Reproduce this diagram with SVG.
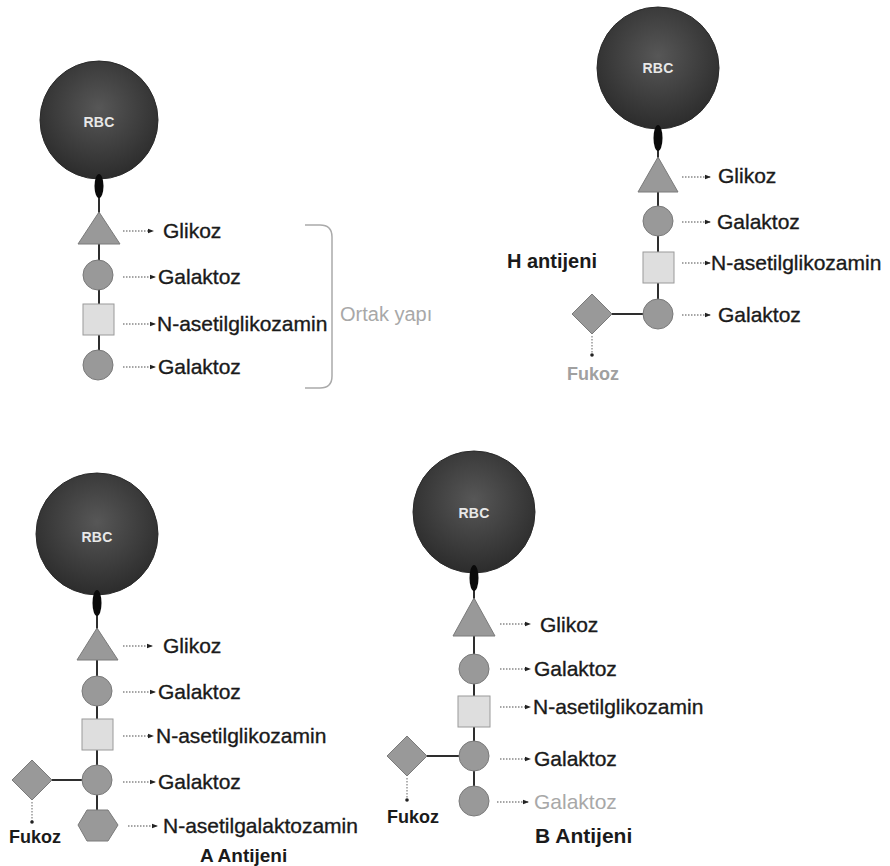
<svg xmlns="http://www.w3.org/2000/svg" width="890" height="866" viewBox="0 0 890 866">
<defs>
<radialGradient id="rbcGrad" cx="50%" cy="40%" r="60%">
<stop offset="0" stop-color="#575757"/>
<stop offset="1" stop-color="#2c2c2c"/>
</radialGradient>
<marker id="ah" viewBox="0 0 6 6" refX="5" refY="3" markerWidth="6" markerHeight="6" markerUnits="userSpaceOnUse" orient="auto">
<path d="M0,0.8 L6,3 L0,5.2 Z" fill="#222"/>
</marker>
<marker id="dot" viewBox="0 0 4 4" refX="2" refY="2" markerWidth="4" markerHeight="4" markerUnits="userSpaceOnUse">
<circle cx="2" cy="2" r="1.8" fill="#222"/>
</marker>
</defs>
<style>
.rbc{fill:url(#rbcGrad);stroke:#2a2a2a;stroke-width:1}
.rbct{font-family:"Liberation Sans",Arial,sans-serif;font-size:14px;font-weight:bold;fill:#e8e8e8;text-anchor:middle;letter-spacing:0.3px}
.stem{fill:#0a0a0a}
.bond{stroke:#2e2e2e;stroke-width:2;fill:none}
.sug{fill:#999;stroke:#7a7a7a;stroke-width:1}
.sq{fill:#dedede;stroke:#9a9a9a;stroke-width:1}
.lbl{font-family:"Liberation Sans",Arial,sans-serif;font-size:21px;fill:#1a1a1a;stroke:#1a1a1a;stroke-width:0.35}
.glbl{font-family:"Liberation Sans",Arial,sans-serif;font-size:20px;fill:#a8a8a8}
.glbl2{font-family:"Liberation Sans",Arial,sans-serif;font-size:21px;fill:#a8a8a8}
.ttl{font-family:"Liberation Sans",Arial,sans-serif;font-size:20px;font-weight:bold;fill:#1a1a1a}
.fuk{font-family:"Liberation Sans",Arial,sans-serif;font-size:18px;font-weight:bold;fill:#1a1a1a}
.fukg{font-family:"Liberation Sans",Arial,sans-serif;font-size:18px;font-weight:bold;fill:#a0a0a0}
.dl{stroke:#888;stroke-width:1.3;stroke-dasharray:1.5 1.5;fill:none}
.brk{stroke:#aaa;stroke-width:1.5;fill:none}
</style>
<rect width="890" height="866" fill="#fff"/>

<g id="connectors">
<line class="bond" x1="99" y1="195" x2="99" y2="365"/>
<line class="dl" x1="123" y1="231" x2="153" y2="231" marker-end="url(#ah)"/>
<line class="dl" x1="123" y1="277" x2="155" y2="277" marker-end="url(#ah)"/>
<line class="dl" x1="123" y1="324" x2="155" y2="324" marker-end="url(#ah)"/>
<line class="dl" x1="123" y1="367" x2="155" y2="367" marker-end="url(#ah)"/>
<path class="brk" d="M305,225 L320,225 Q332,225 332,237 L332,376 Q332,388 320,388 L305,388"/>
<line class="bond" x1="658" y1="148" x2="658" y2="314"/>
<line class="bond" x1="610" y1="314" x2="650" y2="314"/>
<line class="dl" x1="682" y1="177" x2="710" y2="177" marker-end="url(#ah)"/>
<line class="dl" x1="682" y1="222" x2="710" y2="222" marker-end="url(#ah)"/>
<line class="dl" x1="682" y1="263" x2="710" y2="263" marker-end="url(#ah)"/>
<line class="dl" x1="682" y1="315" x2="710" y2="315" marker-end="url(#ah)"/>
<line class="dl" x1="592" y1="336" x2="592" y2="355" marker-end="url(#dot)"/>
<line class="bond" x1="97" y1="614" x2="97" y2="825"/>
<line class="bond" x1="50" y1="780" x2="90" y2="780"/>
<line class="dl" x1="123" y1="646" x2="152" y2="646" marker-end="url(#ah)"/>
<line class="dl" x1="123" y1="692" x2="155" y2="692" marker-end="url(#ah)"/>
<line class="dl" x1="123" y1="736" x2="153" y2="736" marker-end="url(#ah)"/>
<line class="dl" x1="123" y1="782" x2="155" y2="782" marker-end="url(#ah)"/>
<line class="dl" x1="128" y1="826" x2="157" y2="826" marker-end="url(#ah)"/>
<line class="dl" x1="32" y1="802" x2="32" y2="822" marker-end="url(#dot)"/>
<line class="bond" x1="474" y1="587" x2="474" y2="801"/>
<line class="bond" x1="425" y1="756" x2="466" y2="756"/>
<line class="dl" x1="500" y1="624" x2="530" y2="624" marker-end="url(#ah)"/>
<line class="dl" x1="500" y1="669" x2="530" y2="669" marker-end="url(#ah)"/>
<line class="dl" x1="500" y1="707" x2="530" y2="707" marker-end="url(#ah)"/>
<line class="dl" x1="500" y1="759" x2="530" y2="759" marker-end="url(#ah)"/>
<line class="dl" x1="497" y1="802" x2="528" y2="802" marker-end="url(#ah)"/>
<line class="dl" x1="407" y1="778" x2="407" y2="800" marker-end="url(#dot)"/>
</g>

<g id="p1-rbc"><circle class="rbc" cx="99" cy="120" r="59"/><text class="rbct" x="99" y="127">RBC</text></g>
<g id="p1-stem"><ellipse class="stem" cx="99" cy="186" rx="4.5" ry="12"/></g>
<g id="p1-glikoz"><polygon class="sug" points="99,212 78,244 120,244"/><text class="lbl" x="163" y="238">Glikoz</text></g>
<g id="p1-galaktoz1"><circle class="sug" cx="98" cy="275" r="15"/><text class="lbl" x="158" y="284">Galaktoz</text></g>
<g id="p1-nag"><rect class="sq" x="83" y="304" width="31" height="31"/><text class="lbl" x="157" y="331">N-asetilglikozamin</text></g>
<g id="p1-galaktoz2"><circle class="sug" cx="98" cy="365" r="15"/><text class="lbl" x="158" y="374">Galaktoz</text></g>
<g id="p1-ortak"><text class="glbl" x="340" y="321">Ortak yapı</text></g>

<g id="p2-rbc"><circle class="rbc" cx="658" cy="68" r="61"/><text class="rbct" x="658" y="73">RBC</text></g>
<g id="p2-stem"><ellipse class="stem" cx="658" cy="138" rx="4.5" ry="13"/></g>
<g id="p2-glikoz"><polygon class="sug" points="658,157 638,192 678,192"/><text class="lbl" x="718" y="183">Glikoz</text></g>
<g id="p2-galaktoz1"><circle class="sug" cx="658" cy="221" r="15"/><text class="lbl" x="717" y="229">Galaktoz</text></g>
<g id="p2-nag"><rect class="sq" x="643" y="252" width="31" height="31"/><text class="lbl" x="711" y="270">N-asetilglikozamin</text></g>
<g id="p2-galaktoz2"><circle class="sug" cx="658" cy="314" r="15"/><text class="lbl" x="718" y="322">Galaktoz</text></g>
<g id="p2-fukoz"><polygon class="sug" points="592,294 612,314 592,334 572,314"/><text class="fukg" x="567" y="380">Fukoz</text></g>
<g id="p2-title"><text class="ttl" x="507" y="268">H antijeni</text></g>

<g id="p3-rbc"><circle class="rbc" cx="97" cy="534" r="61"/><text class="rbct" x="97" y="542">RBC</text></g>
<g id="p3-stem"><ellipse class="stem" cx="97" cy="603" rx="4.5" ry="13"/></g>
<g id="p3-glikoz"><polygon class="sug" points="97,628 77,660 118,660"/><text class="lbl" x="163" y="653">Glikoz</text></g>
<g id="p3-galaktoz1"><circle class="sug" cx="97" cy="691" r="15"/><text class="lbl" x="158" y="699">Galaktoz</text></g>
<g id="p3-nag"><rect class="sq" x="82" y="719" width="31" height="31"/><text class="lbl" x="156" y="743">N-asetilglikozamin</text></g>
<g id="p3-galaktoz2"><circle class="sug" cx="97" cy="780" r="15"/><text class="lbl" x="158" y="789">Galaktoz</text></g>
<g id="p3-nagal"><polygon class="sug" points="78,825 87,810 108,810 118,825 108,841 87,841"/><text class="lbl" x="163" y="833">N-asetilgalaktozamin</text></g>
<g id="p3-fukoz"><polygon class="sug" points="32,760 52,780 32,800 12,780"/><text class="fuk" x="9" y="843">Fukoz</text></g>
<g id="p3-title"><text class="ttl" x="200" y="862" style="font-size:19px">A Antijeni</text></g>

<g id="p4-rbc"><circle class="rbc" cx="474" cy="512" r="61"/><text class="rbct" x="474" y="518">RBC</text></g>
<g id="p4-stem"><ellipse class="stem" cx="474" cy="578" rx="4.5" ry="13"/></g>
<g id="p4-glikoz"><polygon class="sug" points="474,598 453,636 495,636"/><text class="lbl" x="540" y="632">Glikoz</text></g>
<g id="p4-galaktoz1"><circle class="sug" cx="474" cy="669" r="15"/><text class="lbl" x="534" y="676">Galaktoz</text></g>
<g id="p4-nag"><rect class="sq" x="458" y="696" width="32" height="31"/><text class="lbl" x="533" y="714">N-asetilglikozamin</text></g>
<g id="p4-galaktoz2"><circle class="sug" cx="474" cy="756" r="15"/><text class="lbl" x="534" y="766">Galaktoz</text></g>
<g id="p4-galaktoz3"><circle class="sug" cx="474" cy="801" r="15"/><text class="glbl2" x="534" y="809">Galaktoz</text></g>
<g id="p4-fukoz"><polygon class="sug" points="407,736 427,756 407,776 387,756"/><text class="fuk" x="387" y="823">Fukoz</text></g>
<g id="p4-title"><text class="ttl" x="535" y="843" style="font-size:21px">B Antijeni</text></g>
</svg>
